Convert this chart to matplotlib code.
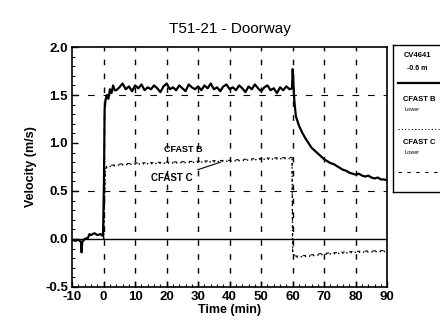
import numpy as np
import matplotlib.pyplot as plt

plt.rcParams['font.family'] = ['Liberation Sans', 'DejaVu Sans']
plt.rcParams['axes.unicode_minus'] = False

# measured velocity, CV4641 -0.6 m
t_meas = [-10, -9, -8, -7.2, -7.0, -6.8, -6, -5, -4.5, -4, -3, -2, -1, -0.2, 0.1, 0.3, 0.6,
          1, 1.5, 2, 2.5, 3, 3.5, 4, 5, 6, 7, 8, 9, 10, 11, 12, 13, 14, 15, 16, 17, 18, 19, 20,
          21, 22, 23, 24, 25, 26, 27, 28, 29, 30, 31, 32, 33, 34, 35, 36, 37, 38, 39, 40,
          41, 42, 43, 44, 45, 46, 47, 48, 49, 50, 51, 52, 53, 54, 55, 56, 57, 58, 59, 59.8,
          60, 60.5, 61, 62, 63, 64, 65, 66, 67, 68, 69, 70, 71, 72, 73, 74, 75, 76, 77, 78,
          79, 80, 81, 82, 83, 84, 85, 86, 87, 88, 89, 90]
v_meas = [-0.01, -0.02, -0.01, -0.03, -0.14, -0.03, 0.0, 0.01, 0.05, 0.04, 0.06, 0.04, 0.05, 0.03, 0.6, 1.35, 1.45,
          1.50, 1.46, 1.56, 1.52, 1.60, 1.55, 1.55, 1.58, 1.62, 1.56, 1.59, 1.54, 1.60, 1.57, 1.61, 1.55, 1.58, 1.56, 1.60, 1.57, 1.53, 1.59, 1.62,
          1.56, 1.58, 1.55, 1.60, 1.57, 1.54, 1.61, 1.58, 1.56, 1.59, 1.55, 1.60, 1.57, 1.62, 1.56, 1.58, 1.54, 1.59, 1.61, 1.56,
          1.58, 1.55, 1.60, 1.57, 1.53, 1.59, 1.56, 1.61, 1.57, 1.54, 1.58, 1.60, 1.55, 1.57, 1.52, 1.58, 1.55, 1.59, 1.56, 1.57,
          1.77, 1.45, 1.28, 1.18, 1.11, 1.05, 1.00, 0.95, 0.92, 0.89, 0.86, 0.83, 0.81, 0.79, 0.78, 0.76, 0.74, 0.72, 0.71, 0.69,
          0.68, 0.67, 0.68, 0.66, 0.65, 0.66, 0.64, 0.63, 0.64, 0.62, 0.62, 0.61]

# CFAST B, lower layer
t_b = [0, 0.5, 1, 5, 10, 20, 30, 40, 50, 59.8, 60, 61, 65, 70, 80, 90]
v_b = [0.0, 0.70, 0.75, 0.77, 0.78, 0.79, 0.80, 0.81, 0.83, 0.84, -0.15, -0.19, -0.18, -0.16, -0.14, -0.13]

# CFAST C, lower layer
t_c = [0, 0.5, 1, 5, 10, 20, 30, 40, 50, 59.8, 60, 61, 65, 70, 80, 90]
v_c = [0.0, 0.72, 0.76, 0.78, 0.79, 0.80, 0.81, 0.82, 0.84, 0.85, -0.14, -0.18, -0.17, -0.15, -0.13, -0.12]

x_ticks = [-10, 0, 10, 20, 30, 40, 50, 60, 70, 80, 90]
y_ticks = [-0.5, 0.0, 0.5, 1.0, 1.5, 2.0]

fig = plt.figure(figsize=(4.4, 3.29), dpi=100)
ax = fig.add_axes([0.164, 0.128, 0.716, 0.729])

for x in x_ticks[1:-1]:
    ax.axvline(x, color='black', lw=1.0, ls=(0, (4, 6)), zorder=1)
for y in [0.5, 1.5]:
    ax.axhline(y, color='black', lw=0.8, ls=(0, (6, 8)), zorder=1)
ax.axhline(0.0, color='black', lw=1.0, zorder=2)

ax.plot(t_meas, v_meas, color='black', lw=1.6, zorder=4)
ax.plot(t_b, v_b, color='black', lw=1.0, ls=(0, (1, 2)), zorder=3)
ax.plot(t_c, v_c, color='black', lw=0.8, ls=(0, (3, 4)), zorder=3)

ax.text(19, 0.91, 'CFAST B', fontsize=6.5, fontweight='bold')
ax.annotate('CFAST C', xy=(38, 0.81), xytext=(15, 0.6), fontsize=7, fontweight='bold',
            arrowprops=dict(arrowstyle='-', color='black', lw=0.8))

ax.set_xlim(-10, 90)
ax.set_ylim(-0.5, 2.0)
ax.set_xticks(x_ticks)
ax.set_yticks(y_ticks)
ax.set_yticklabels(['-0.5', '0.0', '0.5', '1.0', '1.5', '2.0'])
ax.set_xticks(np.arange(-10, 91, 2), minor=True)
ax.set_yticks(np.arange(-0.5, 2.01, 0.1), minor=True)
ax.tick_params(direction='in', length=4, width=1, labelsize=9.5, pad=3)
ax.tick_params(which='minor', direction='in', length=2, width=0.8)
for lab in ax.get_xticklabels() + ax.get_yticklabels():
    lab.set_fontweight('bold')
for s in ax.spines.values():
    s.set_linewidth(1.2)

ax.set_title('T51-21 - Doorway', fontsize=11, pad=10)
ax.set_xlabel('Time (min)', fontsize=9, fontweight='bold', labelpad=1)
ax.set_ylabel('Velocity (m/s)', fontsize=9, fontweight='bold', labelpad=6)

# legend panel on the right
lg = fig.add_axes([0.893, 0.416, 0.11, 0.447])
lg.set_xlim(0, 1)
lg.set_ylim(0, 1)
lg.set_xticks([])
lg.set_yticks([])
for s in lg.spines.values():
    s.set_linewidth(1.0)
lg.text(0.5, 0.93, 'CV4641', fontsize=5.5, fontweight='bold', ha='center', va='center')
lg.text(0.5, 0.84, '-0.6 m', fontsize=5, fontweight='bold', ha='center', va='center')
lg.plot([0.1, 0.95], [0.74, 0.74], color='black', lw=1.6)
lg.text(0.55, 0.63, 'CFAST B', fontsize=5.5, fontweight='bold', ha='center', va='center')
lg.text(0.4, 0.56, 'Lower', fontsize=4, ha='center', va='center')
lg.plot([0.1, 0.95], [0.43, 0.43], color='black', lw=0.8, ls=(0, (1, 2)))
lg.text(0.55, 0.34, 'CFAST C', fontsize=5.5, fontweight='bold', ha='center', va='center')
lg.text(0.4, 0.27, 'Lower', fontsize=4, ha='center', va='center')
lg.plot([0.1, 0.95], [0.14, 0.14], color='black', lw=0.8, ls=(0, (3, 5)))

fig.savefig('out.png', dpi=100)
